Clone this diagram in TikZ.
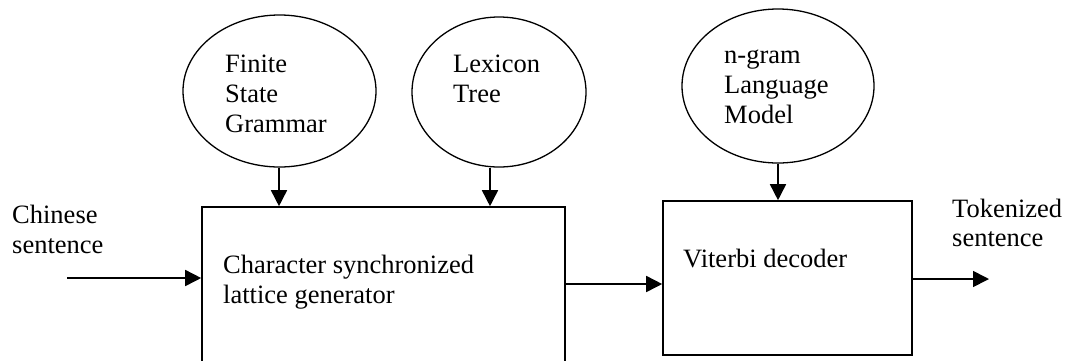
\documentclass[tikz,border=0pt]{standalone}
\usepackage{fontspec}
\setmainfont{Liberation Serif}
\usetikzlibrary{shapes.geometric,arrows.meta}
\tikzset{
  lbl/.style={inner sep=0pt, anchor=base west, align=left,
              font=\fontsize{26.5}{30}\selectfont},
  src/.style={ellipse, draw, line width=1.3pt, inner sep=0pt},
  blk/.style={rectangle, draw, line width=1.6pt, inner sep=0pt},
  arr/.style={line width=1.6pt, -{Triangle[length=16pt,width=16pt]}}
}
\begin{document}
\begin{tikzpicture}[x=1pt,y=-1pt]
\useasboundingbox (0,0) rectangle (1070,360);
\clip (0,0) rectangle (1070,360);

% knowledge sources
\node[src, minimum width=193pt, minimum height=152pt] (fsg) at (279.5,91) {};
\node[src, minimum width=174pt, minimum height=150pt] (lex) at (499,92) {};
\node[src, minimum width=192pt, minimum height=154pt] (lm)  at (778,86) {};

% labels are placed by the baseline of their last line
\node[lbl] (fsgt) at (225,132) {Finite\\State\\Grammar};
\node[lbl] (lext) at (453,102) {Lexicon\\Tree};
\node[lbl] (lmt)  at (724,123) {n-gram\\Language\\Model};

% processing blocks
\node[blk, minimum width=363pt, minimum height=200pt] (gen) at (383.5,307) {};
\node[blk, minimum width=249pt, minimum height=154pt] (vit) at (787.5,278) {};

\node[lbl] (gent) at (223,303) {Character synchronized\\lattice generator};
\node[lbl] (vitt) at (683,267) {Viterbi decoder};

% input and output
\node[lbl] (inl)  at (12,253)  {Chinese\\sentence};
\node[lbl, font=\fontsize{26.5}{28.5}\selectfont] (outl) at (952,246) {Tokenized\\sentence};

\coordinate (in)  at (67,278);
\coordinate (out) at (989,279);
\coordinate (mid) at (0,284);
\coordinate (c1) at (279,0);
\coordinate (c2) at (490,0);
\coordinate (c3) at (778,0);

% connectors
\draw[arr] (fsg.south -| c1) -- (gen.north -| c1);
\draw[arr] (lex.south -| c2) -- (gen.north -| c2);
\draw[arr] (lm.south -| c3) -- (vit.north -| c3);
\draw[arr] (in) -- (in -| gen.west);
\draw[arr] (gen.east |- mid) -- (vit.west |- mid);
\draw[arr] (vit.east |- out) -- (out);
\end{tikzpicture}
\end{document}
